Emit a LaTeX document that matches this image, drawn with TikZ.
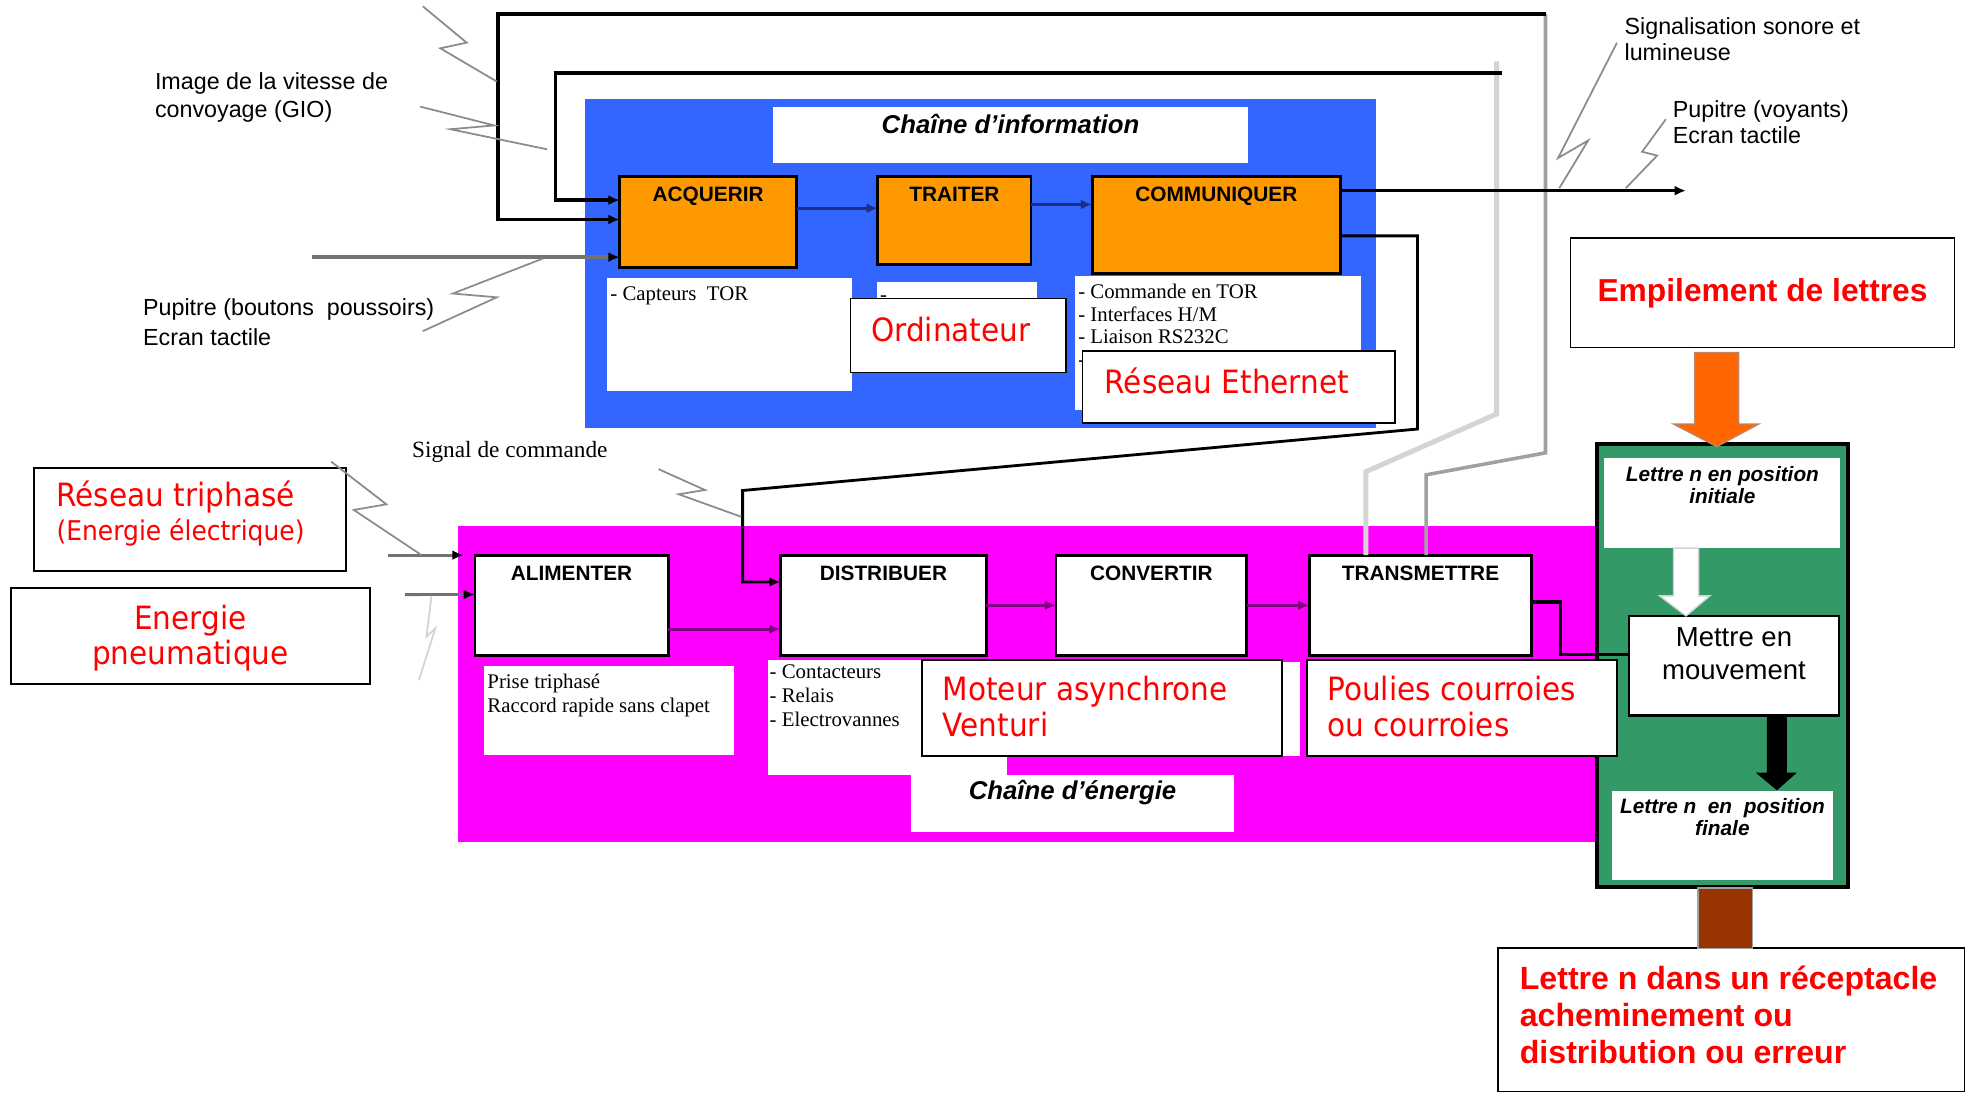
\documentclass[tikz,border=0pt]{standalone}
\usepackage{fontspec}
\setmainfont{Liberation Sans}
\newfontfamily\listfont{Liberation Serif}
\newfontfamily\redfont[FakeStretch=0.92]{DejaVu Sans}
\usetikzlibrary{arrows.meta,positioning,calc}
\newdimen\pxu
\pxu=0.0125cm
\definecolor{infoblue}{HTML}{3366FF}
\definecolor{energymag}{HTML}{FF00FF}
\definecolor{funcorange}{HTML}{FF9900}
\definecolor{opgreen}{HTML}{339966}
\definecolor{flowred}{HTML}{FF0000}
\definecolor{arroworange}{HTML}{FF6600}
\definecolor{stembrown}{HTML}{993300}
\definecolor{navyline}{HTML}{1F2F80}
\definecolor{plumline}{HTML}{800080}
\definecolor{boltgray}{HTML}{8C8C8C}
\definecolor{midgray}{HTML}{A0A0A0}
\definecolor{palegray}{HTML}{D4D4D4}
\definecolor{heavygray}{HTML}{737373}
\tikzset{
  panel/.style={rectangle,draw=none,inner sep=0pt,outer sep=0pt,anchor=north west},
  listbox/.style={rectangle,fill=white,draw=none,inner sep=0pt,outer sep=0pt,anchor=north west},
  func/.style={rectangle,draw=black,line width=0.8pt,inner sep=0pt,outer sep=0pt},
  tagbox/.style={rectangle,draw=black,line width=0.5pt,fill=white,inner sep=0pt,outer sep=0pt,anchor=north west},
  funclabel/.style={font=\fontsize{5.9}{7}\selectfont\bfseries,anchor=base,inner sep=0pt,yshift=-20\pxu},
  chaintitle/.style={font=\fontsize{7.3}{8}\selectfont\bfseries\itshape,anchor=base,inner sep=0pt},
  redtext/.style={font=\redfont\fontsize{9.1}{10.1}\selectfont,text=flowred,inner sep=0pt,align=left},
  redbold/.style={font=\fontsize{9.1}{10.5}\selectfont\bfseries,text=flowred,align=left},
  note/.style={font=\fontsize{6.6}{8}\selectfont,inner sep=0pt,align=left,anchor=north west},
  listtext/.style={font=\listfont\fontsize{5.9}{6.5}\selectfont,inner sep=0pt,align=left,anchor=north west},
  postext/.style={font=\fontsize{5.9}{6.2}\selectfont\bfseries\itshape,inner sep=0pt,align=center,anchor=north},
  flow/.style={draw=black,line width=0.8pt,-{Latex[length=3.2pt,width=2.8pt]}},
  navyflow/.style={flow,draw=navyline},
  plumflow/.style={flow,draw=plumline},
  ingray/.style={draw=heavygray,line width=0.8pt,-{Latex[length=3.2pt,width=2.8pt,color=black]}},
  thickgray/.style={draw=heavygray,line width=1.3pt,-{Latex[length=3.2pt,width=2.8pt,color=black]}},
  fbline/.style={flow,line width=1pt},
  fbgray/.style={draw=midgray,line width=1pt},
  fblight/.style={draw=palegray,line width=1.4pt},
  wire/.style={draw=black,line width=0.9pt},
  bolt/.style={draw=boltgray,line width=0.5pt}
}
\begin{document}
\begin{tikzpicture}[x=0.0125cm,y=-0.0125cm,node distance=0.6cm]
    \path[use as bounding box,fill=white] (0,0) rectangle (1568,872);

    \node[panel,fill=infoblue,minimum width=631\pxu,minimum height=262\pxu] (infobg) at (466,79) {};
    \node[panel,fill=energymag,minimum width=909\pxu,minimum height=252\pxu] (enbg) at (365,419) {};
    \node[panel,fill=opgreen,draw=black,line width=1pt,minimum width=200\pxu,minimum height=353\pxu] (opbox) at (1273,354) {};

    \node[listbox,minimum width=379\pxu,minimum height=45\pxu,label={[chaintitle,yshift=-21.5\pxu]above:Chaîne d’information}] (infotitle) at (616,85) {};
    \node[listbox,minimum width=258\pxu,minimum height=45\pxu,label={[chaintitle,yshift=-19.7\pxu]above:Chaîne d’énergie}] (entitle) at (726,618) {};

    \node[listbox,minimum width=195\pxu,minimum height=90\pxu] (acqlist) at (484,222) {};
    \node[listbox,minimum width=128\pxu,minimum height=65\pxu] (traitlist) at (699,225) {};
    \node[listbox,minimum width=228\pxu,minimum height=107\pxu] (commlist) at (857,220) {};
    \node[listbox,minimum width=199\pxu,minimum height=71\pxu] (alimlist) at (386,531) {};
    \node[listbox,minimum width=191\pxu,minimum height=92\pxu] (distlist) at (612,526) {};
    \node[listbox,minimum width=299\pxu,minimum height=75\pxu] (convlist) at (737,528) {};
    \node[listtext] (acqitems) at ($(acqlist.north west)+(2,6)$) {- Capteurs\ \ TOR};
    \node[listtext,anchor=base west] (traititems) at ($(traitlist.north west)+(2,15)$) {-};
    \node[listtext,font=\listfont\fontsize{5.9}{6.4}\selectfont] (commitems) at ($(commlist.north west)+(2,6)$) {- Commande en TOR\\- Interfaces H/M\\- Liaison RS232C\\-};
    \node[listtext,font=\listfont\fontsize{5.9}{6.7}\selectfont] (alimitems) at ($(alimlist.north west)+(2,5.7)$) {Prise triphasé\\Raccord rapide sans clapet};
    \node[listtext,font=\listfont\fontsize{5.9}{6.9}\selectfont] (distitems) at ($(distlist.north west)+(1,3)$) {- Contacteurs\\- Relais\\- Electrovannes};

    \node[func,fill=funcorange,minimum width=141\pxu,minimum height=72\pxu,anchor=north west,label={[funclabel]above:ACQUERIR}] (acq) at (494,141) {};
    \node[func,fill=funcorange,minimum width=122\pxu,minimum height=70\pxu,right=0.81cm of acq.north east,anchor=north west,label={[funclabel]above:TRAITER}] (trait) {};
    \node[func,fill=funcorange,minimum width=198\pxu,minimum height=77\pxu,right=0.61cm of trait.north east,anchor=north west,label={[funclabel]above:COMMUNIQUER}] (comm) {};

    \node[func,fill=white,minimum width=154\pxu,minimum height=80\pxu,anchor=north west,label={[funclabel]above:ALIMENTER}] (alim) at (378.6,442.5) {};
    \node[func,fill=white,minimum width=164\pxu,minimum height=80\pxu,right=1.12cm of alim.north east,anchor=north west,label={[funclabel]above:DISTRIBUER}] (dist) {};
    \node[func,fill=white,minimum width=152\pxu,minimum height=80\pxu,right=0.695cm of dist.north east,anchor=north west,label={[funclabel]above:CONVERTIR}] (conv) {};
    \node[func,fill=white,minimum width=177\pxu,minimum height=80\pxu,right=0.625cm of conv.north east,anchor=north west,label={[funclabel]above:TRANSMETTRE}] (trans) {};

    \node[tagbox,minimum width=172\pxu,minimum height=59\pxu] (ordi) at (678,238) {};
    \node[redtext,anchor=base west] (orditxt) at ($(ordi.north west)+(16,34)$) {Ordinateur};
    \node[tagbox,minimum width=249\pxu,minimum height=57\pxu] (ether) at (863,280) {};
    \node[redtext,anchor=base west] (ethertxt) at ($(ether.north west)+(17,33.5)$) {Réseau Ethernet};
    \node[tagbox,minimum width=249\pxu,minimum height=82\pxu] (triph) at (27,373) {};
    \node[redtext,anchor=base west] (triphtxt) at ($(triph.north west)+(17.5,31)$) {Réseau triphasé};
    \node[redtext,font=\redfont\fontsize{7.7}{9}\selectfont,anchor=base west] (electxt) at ($(triph.north west)+(17.5,58)$) {(Energie électrique)};
    \node[tagbox,minimum width=286.5\pxu,minimum height=76.5\pxu] (pneu) at (8.5,468.5) {};
    \node[redtext,align=center,anchor=north] (pneutxt) at ($(pneu.north)+(0,13)$) {Energie\\pneumatique};
    \node[tagbox,minimum width=287\pxu,minimum height=76.6\pxu] (moteur) at (735,526) {};
    \node[redtext,anchor=north west] (moteurtxt) at ($(moteur.north west)+(16,12.5)$) {Moteur asynchrone\\Venturi};
    \node[tagbox,minimum width=247\pxu,minimum height=76.6\pxu] (poulies) at (1042,526) {};
    \node[redtext,anchor=north west] (pouliestxt) at ($(poulies.north west)+(15.5,12.5)$) {Poulies courroies\\ou courroies};
    \node[tagbox,redbold,font=\fontsize{9}{10}\selectfont\bfseries,minimum width=306\pxu,minimum height=87\pxu] (empil) at (1252,190) {Empilement de lettres};
    \node[tagbox,minimum width=372\pxu,minimum height=114\pxu] (recept) at (1194,756) {};
    \node[redbold,inner sep=0pt,anchor=north west] (recepttxt) at ($(recept.north west)+(17,13.5)$) {Lettre n dans un réceptacle\\acheminement ou\\distribution ou erreur};

    \node[listbox,minimum width=188\pxu,minimum height=72\pxu] (posinit) at (1279,365) {};
    \node[postext] (initxt) at ($(posinit.north)+(0,6)$) {Lettre n en position\\initiale};
    \node[func,fill=white,minimum width=167.5\pxu,minimum height=79.6\pxu,anchor=north west] (mettre) at (1298.5,491) {};
    \node[inner sep=0pt,align=center,anchor=north,font=\fontsize{7.8}{9.2}\selectfont] (mettretxt) at ($(mettre.north)+(0,9)$) {Mettre en\\mouvement};
    \node[listbox,minimum width=176\pxu,minimum height=71\pxu] (posfinal) at (1285,630.5) {};
    \node[postext] (finaltxt) at ($(posfinal.north)+(0,5.5)$) {Lettre n\ \ en\ \ position\\finale};

    \node[note] (vitesse) at (123,57) {Image de la vitesse de\\convoyage (GIO)};
    \node[note,font=\fontsize{6.6}{8.5}\selectfont] (pupitrein) at (113.5,237.5) {Pupitre (boutons\ \ poussoirs)\\Ecran tactile};
    \node[note,font=\fontsize{6.6}{7.3}\selectfont] (signalisation) at (1294.5,13.3) {Signalisation sonore et\\lumineuse};
    \node[note,font=\fontsize{6.6}{7.2}\selectfont] (voyants) at (1333,80) {Pupitre (voyants)\\Ecran tactile};
    \node[listtext,font=\listfont\fontsize{6.6}{7}\selectfont,anchor=base west] (commande) at (328,365) {Signal de commande};

    \coordinate (loopA) at (1232,11);
    \coordinate (loopB) at (1197,58);
    \coordinate (pupin) at (249,205);
    \coordinate (sigout) at (1344,152);
    \coordinate (elecin) at (309,442.5);
    \coordinate (pneuin) at (323,474);

    \draw[fbgray] ($(trans.north)+(4.5,0)$) -- +(0,-64) -- (1232,361) -- (loopA);
    \draw[fbline] (loopA) -- (397,11) |- ($(acq.west)+(0,-2)$);
    \draw[fblight] ($(trans.north)+(-43.5,0)$) -- +(0,-66.5) -- (1193,330) -- (1193,49);
    \draw[fbline] (loopB) -- (443,58) |- ($(acq.west)+(0,-17.5)$);
    \draw[thickgray] (pupin) -- ($(acq.west)+(0,28)$);
    \draw[navyflow] ($(acq.east)+(0,-11)$) -- ($(trait.west)+(0,-10)$);
    \draw[navyflow] ($(trait.east)+(0,-13)$) -- ($(comm.west)+(0,-16.5)$);
    \draw[flow] ($(comm.north east)+(0,11)$) -- (sigout);
    \draw[flow] ($(comm.east)+(0,8.5)$) -| (1130,342) -- (592,391) |- ($(dist.west)+(0,-18.6)$);

    \draw[ingray] (elecin) -- ($(alim.north west)+(-9,0)$);
    \draw[ingray] (pneuin) -- ($(alim.west)+(0,-8.6)$);
    \draw[plumflow] ($(alim.east)+(0,19)$) -- ($(dist.west)+(0,19)$);
    \draw[plumflow] (dist) -- (conv);
    \draw[plumflow] (conv) -- (trans);
    \draw[wire] ($(trans.east)+(0,-2.6)$) -| (1244,522) -- ($(mettre.west)+(0,-8.8)$);

    \draw[bolt] (337,5) -- (372,34) -- (351,38.5) -- (396,65);
    \draw[bolt] (335,85) -- (394,100) -- (359,103) -- (436,119);
    \draw[bolt] (433,206) -- (361,234) -- (396,237) -- (337,264);
    \draw[bolt] (1289,34) -- (1242,126) -- (1266,112) -- (1243,150);
    \draw[bolt] (1328,95) -- (1309,121) -- (1321,124) -- (1296,150);
    \draw[bolt] (264,368) -- (308,402) -- (282,406.5) -- (336,442.5);
    \draw[bolt,draw=palegray] (344,475) -- (340,507.5) -- (347,501) -- (334,542);
    \draw[bolt] (525,374) -- (562,390.6) -- (541,394) -- (591,412);

    \filldraw[fill=arroworange,draw=stembrown!60,line width=0.4pt] (1351,281) -- (1386,281) -- (1386,338) -- (1402,338) -- (1368.5,356) -- (1334,338) -- (1351,338) -- cycle;
    \filldraw[fill=white,draw=palegray,line width=0.4pt] (1334,437) -- (1354,437) -- (1354,475) -- (1363,475) -- (1344,491) -- (1323,475) -- (1334,475) -- cycle;
    \fill[black] (1408.5,570.6) -- (1424.5,570.6) -- (1424.5,615.8) -- (1432.5,615.8) -- (1416.5,630) -- (1399.5,615.8) -- (1408.5,615.8) -- cycle;
    \filldraw[fill=stembrown,draw=midgray,line width=0.4pt] (1353.5,708) rectangle (1397,756);
  \end{tikzpicture}
\end{document}
